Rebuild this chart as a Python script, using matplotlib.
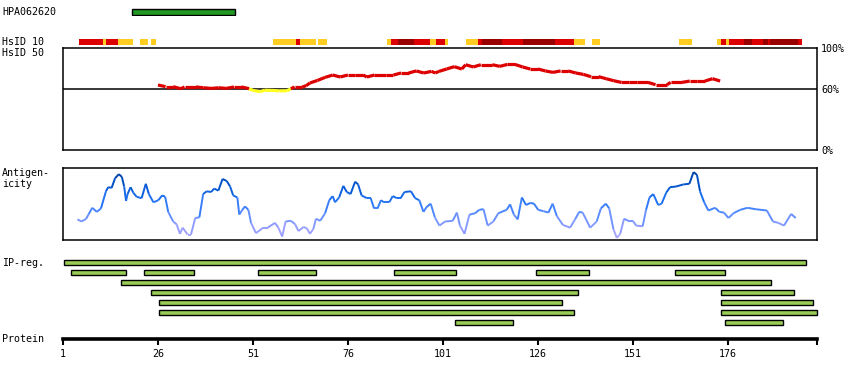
import matplotlib
matplotlib.use("Agg")
import matplotlib.pyplot as plt
from matplotlib.collections import LineCollection
from matplotlib.colors import LinearSegmentedColormap
import numpy as np

# HPA antigen fragment (residues)
hpa_name = "HPA062620"
hpa_start, hpa_end = 19.2, 46.3

# HsID 10 bar: start, end, level (0 = orange, 1 = red, 2 = dark red)
hs10_start = [5.2, 11.6, 12.3, 15.6, 21.3, 24.2, 56.3, 62.3, 63.4, 68.1,
              86.3, 87.4, 89.2, 93.4, 97.6, 99.2, 101.6, 107.1, 110.3, 111.3,
              116.6, 122.1, 130.5, 135.5, 140.3, 163.2, 173.2, 174.3, 175.6, 176.4,
              180.3, 182.4, 185.3, 186.6, 187.1, 194.5]
hs10_end = [11.6, 12.3, 15.6, 19.4, 23.3, 25.4, 62.3, 63.4, 67.6, 70.5,
            87.4, 89.2, 93.4, 97.6, 99.2, 101.6, 102.3, 110.3, 111.3, 116.6,
            122.1, 130.5, 135.5, 138.4, 142.4, 166.6, 174.3, 175.6, 176.4, 180.3,
            182.4, 185.3, 186.6, 187.1, 194.5, 195.6]
hs10_level = [1, 0, 1, 0, 0, 0, 0, 1, 0, 0,
              0, 1, 2, 1, 0, 1, 0, 0, 1, 2,
              1, 2, 1, 0, 0, 0, 0, 1, 0, 1,
              2, 1, 2, 1, 2, 1]

# HsID 50 identity (%)
hs50_res = [26, 28, 30, 32, 33, 36, 38, 40, 42, 44, 46, 48, 50, 51, 53, 54, 56, 58, 60,
            61, 62, 64, 65, 66, 68, 70, 72, 74, 76, 78, 80, 81, 83, 86, 88, 90, 92, 94,
            96, 98, 99, 100, 102, 104, 106, 107, 109, 111, 114, 116, 118, 120, 122, 124,
            126, 128, 130, 132, 134, 136, 138, 140, 142, 144, 146, 148, 150, 152, 155,
            157, 160, 161, 164, 166, 168, 170, 172, 174]
hs50_val = [63.7, 62.1, 62.1, 60.1, 61.8, 61.8, 61.0, 60.4, 61.0, 60.4, 61.8, 61.8, 60.1,
            58.4, 57.2, 58.6, 58.4, 58.0, 58.1, 60.1, 61.8, 61.8, 63.0, 65.7, 68.2, 71.2,
            73.5, 71.6, 73.5, 73.5, 73.5, 71.6, 73.5, 73.5, 73.5, 75.5, 75.5, 77.5, 75.5,
            77.1, 75.5, 77.1, 79.4, 81.7, 79.4, 83.6, 81.4, 83.6, 83.6, 82.0, 83.9, 83.9,
            81.4, 79.4, 79.4, 77.5, 76.1, 77.5, 77.5, 75.5, 74.1, 71.9, 71.9, 69.9, 67.9,
            66.3, 66.3, 66.3, 66.3, 64.0, 64.0, 66.3, 66.3, 67.6, 67.6, 67.6, 69.9, 67.6]

# Antigenicity (relative score)
ag_res = [4.8, 5.9, 7.1, 7.7, 8.7, 9.9, 11.0, 12.3, 12.9, 13.8, 14.7, 15.7, 16.5, 17.1,
          17.6, 18.0, 18.8, 19.5, 20.4, 21.7, 22.8, 23.6, 24.8, 26.1, 27.1, 27.9, 28.7,
          30.0, 30.9, 31.8, 32.5, 33.8, 34.7, 35.8, 36.9, 37.9, 38.8, 40.0, 40.8, 41.9,
          43.0, 44.1, 45.0, 45.8, 46.9, 47.4, 48.1, 48.9, 49.8, 50.5, 51.8, 53.7, 54.9,
          56.8, 57.7, 58.7, 59.6, 61.0, 62.1, 63.0, 64.3, 65.2, 66.0, 66.9, 67.6, 68.7,
          70.0, 71.1, 72.0, 72.6, 73.7, 74.8, 75.7, 76.7, 77.9, 78.7, 79.6, 81.0, 82.0,
          82.9, 83.8, 84.7, 85.5, 86.9, 87.8, 88.9, 89.9, 90.9, 92.6, 93.7, 94.8, 95.9,
          96.7, 97.8, 98.9, 100.1, 101.6, 103.6, 104.7, 105.5, 106.7, 108.0, 109.5, 110.6,
          111.7, 112.8, 114.3, 115.6, 117.8, 118.7, 119.7, 120.7, 121.8, 122.9, 124.0,
          125.0, 126.1, 127.5, 128.8, 129.9, 131.0, 132.6, 134.5, 135.8, 136.9, 137.8,
          139.8, 141.5, 142.6, 143.9, 144.8, 145.9, 146.8, 147.7, 148.7, 149.8, 151.0,
          151.9, 153.6, 154.5, 155.4, 156.4, 157.7, 158.6, 159.8, 160.8, 162.4, 164.3,
          165.9, 167.0, 167.9, 168.7, 169.8, 170.9, 172.7, 173.8, 175.0, 176.2, 177.5,
          179.3, 181.2, 183.2, 186.3, 187.9, 189.3, 190.8, 192.7, 193.9]
ag_val = [0.28, 0.25, 0.29, 0.35, 0.45, 0.39, 0.44, 0.69, 0.75, 0.74, 0.88, 0.94, 0.90,
          0.76, 0.55, 0.65, 0.75, 0.67, 0.61, 0.59, 0.80, 0.65, 0.53, 0.56, 0.63, 0.61,
          0.39, 0.25, 0.21, 0.07, 0.16, 0.06, 0.06, 0.30, 0.31, 0.65, 0.69, 0.68, 0.73,
          0.70, 0.87, 0.84, 0.76, 0.63, 0.60, 0.35, 0.41, 0.47, 0.42, 0.23, 0.08, 0.16,
          0.16, 0.23, 0.16, 0.03, 0.25, 0.26, 0.21, 0.11, 0.17, 0.15, 0.07, 0.14, 0.29,
          0.26, 0.37, 0.56, 0.62, 0.53, 0.60, 0.77, 0.68, 0.65, 0.83, 0.79, 0.63, 0.59,
          0.59, 0.44, 0.44, 0.56, 0.53, 0.53, 0.62, 0.59, 0.59, 0.68, 0.69, 0.59, 0.56,
          0.39, 0.46, 0.51, 0.31, 0.19, 0.25, 0.26, 0.38, 0.19, 0.07, 0.35, 0.37, 0.42,
          0.43, 0.19, 0.25, 0.37, 0.42, 0.50, 0.35, 0.28, 0.60, 0.49, 0.52, 0.51, 0.42,
          0.40, 0.38, 0.51, 0.33, 0.20, 0.16, 0.28, 0.39, 0.38, 0.16, 0.25, 0.44, 0.51,
          0.44, 0.14, 0.01, 0.07, 0.29, 0.26, 0.26, 0.19, 0.18, 0.42, 0.60, 0.65, 0.49,
          0.51, 0.67, 0.75, 0.76, 0.79, 0.80, 0.97, 0.93, 0.69, 0.53, 0.41, 0.45, 0.39,
          0.38, 0.30, 0.37, 0.42, 0.45, 0.43, 0.41, 0.25, 0.23, 0.19, 0.36, 0.30]

# IP-reg. rows: list of (start, end) per row
ip_rows = [
    [(1.3, 196.5)],
    [(3.1, 17.5), (22.3, 35.4), (52.4, 67.5), (88.2, 104.4), (125.4, 139.4), (162.2, 175.4)],
    [(16.4, 187.3)],
    [(24.2, 136.5), (174.3, 193.4)],
    [(26.4, 132.3), (174.3, 198.4)],
    [(26.4, 135.5), (174.3, 199.4)],
    [(104.3, 119.4), (175.4, 190.5)],
]

prot_ticks = [1, 26, 51, 76, 101, 126, 151, 176]
prot_len = 199.5

W, H = 850, 380
plt.rcParams['font.family'] = ['DejaVu Sans Mono']
plt.rcParams['font.size'] = 7.2
fig = plt.figure(figsize=(W / 100, H / 100), dpi=100)


def px_axes(x0, y0, x1, y1):
    return fig.add_axes([x0 / W, 1 - y1 / H, (x1 - x0) / W, (y1 - y0) / H])


def bare(ax):
    ax.set_xlim(1, prot_len)
    ax.set_xticks([])
    ax.set_yticks([])
    for s in ax.spines.values():
        s.set_visible(False)


X0, X1 = 63, 817

# left labels
def label(y, txt):
    fig.text(2 / W, 1 - y / H, txt, va='center', ha='left')

label(12, hpa_name)
label(42, "HsID 10")
label(53, "HsID 50")
label(173, "Antigen-")
label(184, "icity")
label(263, "IP-reg.")
label(339, "Protein")

# HPA bar
ax = px_axes(X0, 8, X1, 16)
bare(ax)
ax.set_ylim(-0.5, 0.5)
ax.barh(0, hpa_end - hpa_start, left=hpa_start, height=0.7, color='#229922',
        edgecolor='black', linewidth=1)

# HsID 10
colors10 = ['#ffcc22', '#dd0000', '#990000']
ax = px_axes(X0, 39, X1, 45)
bare(ax)
ax.set_ylim(-0.5, 0.5)
for s, e, l in zip(hs10_start, hs10_end, hs10_level):
    ax.barh(0, e - s, left=s, height=1, color=colors10[l], edgecolor='none')

# HsID 50
ax = px_axes(X0, 48, X1, 150)
ax.set_xlim(1, prot_len)
ax.set_ylim(0, 100)
ax.set_xticks([])
ax.yaxis.tick_right()
ax.set_yticks([0, 60, 100])
ax.set_yticklabels(["0%", "60%", "100%"])
ax.tick_params(axis='y', length=0, pad=3)
for s in ax.spines.values():
    s.set_linewidth(1.1)
ax.axhline(60, color='black', lw=1.1)
pts = np.column_stack([hs50_res, hs50_val])
segs = np.stack([pts[:-1], pts[1:]], axis=1)
seg_col = ['#ffff22' if (a + b) / 2 < 60 else '#dd0000'
           for a, b in zip(hs50_val[:-1], hs50_val[1:])]
ax.add_collection(LineCollection(segs, colors=seg_col, linewidths=2.3, capstyle='butt'))

# Antigenicity
ax = px_axes(X0, 168, X1, 240)
ax.set_xlim(1, prot_len)
ax.set_ylim(-0.02, 1.03)
ax.set_xticks([])
ax.set_yticks([])
for s in ax.spines.values():
    s.set_linewidth(1.1)
cmap = LinearSegmentedColormap.from_list(
    "ag", ['#b4a8ff', '#8c9cff', '#4d88ff', '#1a6ef0', '#0050c8', '#003c96'])
pts = np.column_stack([ag_res, ag_val])
segs = np.stack([pts[:-1], pts[1:]], axis=1)
mid = (np.array(ag_val[:-1]) + np.array(ag_val[1:])) / 2
lc = LineCollection(segs, colors=cmap(mid), linewidths=1.4)
ax.add_collection(lc)

# IP-reg.
ax = px_axes(X0, 257, X1, 327)
bare(ax)
ax.set_ylim(len(ip_rows), 0)
for i, row in enumerate(ip_rows):
    for s, e in row:
        ax.barh(i + 0.5, e - s, left=s, height=0.5, color='#99cc55',
                edgecolor='black', linewidth=1, clip_on=False)

# Protein axis
ax = px_axes(X0, 330, X1, 339)
ax.set_xlim(1, prot_len)
ax.set_ylim(0, 1)
ax.set_yticks([])
for k in ['top', 'left', 'right']:
    ax.spines[k].set_visible(False)
ax.spines['bottom'].set_linewidth(2.6)
ax.set_xticks(prot_ticks + [prot_len])
ax.set_xticklabels([str(t) for t in prot_ticks] + [""])
ax.tick_params(axis='x', length=4, width=1.5, pad=3, direction='out')

fig.savefig("out.png", dpi=100)
